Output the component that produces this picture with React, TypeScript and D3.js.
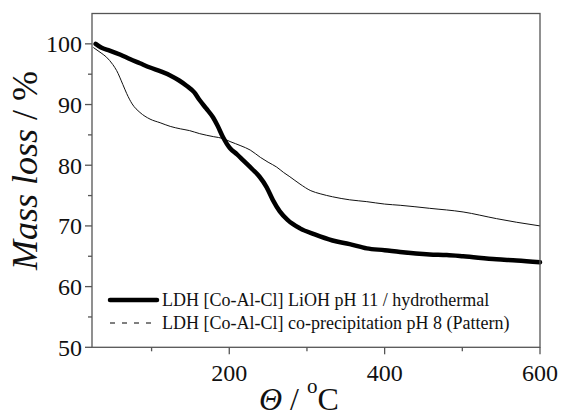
import React from "react";
import * as d3 from "d3";

const hydroT = [28, 35, 46, 60, 72, 85, 98, 111, 124, 135, 145, 155, 162, 170, 179, 185, 192, 197, 201, 210, 218, 230, 239, 248, 256, 265, 275, 291, 310, 333, 355, 377, 400, 420, 458, 480, 501, 544, 570, 600];
const hydroMass = [100, 99.4, 98.9, 98.2, 97.5, 96.8, 96.1, 95.5, 94.8, 94.0, 93.1, 92.0, 90.7, 89.4, 87.9, 86.5, 84.6, 83.5, 82.8, 81.8, 80.8, 79.3, 78.1, 76.4, 74.3, 72.4, 71.0, 69.6, 68.6, 67.6, 67.0, 66.3, 66.0, 65.7, 65.3, 65.2, 65.0, 64.5, 64.3, 64.0];

const coprecT = [25, 35, 42, 50, 55, 63, 68, 75, 85, 98, 111, 124, 137, 149, 162, 180, 192, 201, 215, 227, 240, 250, 261, 270, 278, 291, 305, 317, 333, 355, 377, 400, 420, 458, 501, 544, 570, 600];
const coprecMass = [99.4, 98.5, 97.8, 96.6, 95.6, 93.3, 91.8, 90.1, 88.7, 87.6, 87.0, 86.4, 86.0, 85.7, 85.2, 84.7, 84.4, 83.9, 83.2, 82.5, 81.3, 80.5, 79.7, 78.8, 78.1, 76.9, 75.8, 75.3, 74.8, 74.3, 74.0, 73.6, 73.4, 72.9, 72.3, 71.2, 70.6, 70.0];

const xMajor = [200, 400, 600];
const xMinor = [100, 300, 500];
const yMajor = [50, 60, 70, 80, 90, 100];
const yMinor = [55, 65, 75, 85, 95];

const legendLabels = [
  "LDH [Co-Al-Cl] LiOH pH 11 / hydrothermal",
  "LDH [Co-Al-Cl] co-precipitation pH 8 (Pattern)",
];

const FONT = "Liberation Serif, DejaVu Serif, serif";

export default function App() {
  const W = 562, H = 418;
  const x = d3.scaleLinear().domain([23.3, 600]).range([92, 540]);
  const y = d3.scaleLinear().domain([50, 105]).range([347.3, 13.5]);
  const line = d3
    .line<[number, number]>()
    .x((d) => x(d[0]))
    .y((d) => y(d[1]))
    .curve(d3.curveMonotoneX);
  const hydro = hydroT.map((t, i) => [t, hydroMass[i]] as [number, number]);
  const coprec = coprecT.map((t, i) => [t, coprecMass[i]] as [number, number]);
  const [x0, x1] = x.range();
  const [y0, y1] = y.range();
  const axisColor = "#555";
  const ts = { fontFamily: FONT };

  return (
    <svg width={W} height={H} style={{ position: "absolute", left: 0, top: 0, background: "#fff", fontFamily: FONT }}>
      <rect x={0} y={0} width={W} height={H} fill="#fff" />
      <path d={line(coprec) || ""} fill="none" stroke="#111" strokeWidth={1} />
      <path d={line(hydro) || ""} fill="none" stroke="#000" strokeWidth={4.5} strokeLinecap="round" strokeLinejoin="round" />
      <rect x={x0} y={y1} width={x1 - x0} height={y0 - y1} fill="none" stroke={axisColor} strokeWidth={1.3} />
      {xMajor.map((v) => (
        <g key={"xM" + v}>
          <line x1={x(v)} x2={x(v)} y1={y0} y2={y0 + 7} stroke={axisColor} strokeWidth={1.3} />
          <text style={ts} x={x(v)} y={381} textAnchor="middle" fontSize={24} fill="#111">{v}</text>
        </g>
      ))}
      {xMinor.map((v) => (
        <line key={"xm" + v} x1={x(v)} x2={x(v)} y1={y0} y2={y0 + 4} stroke={axisColor} strokeWidth={1.3} />
      ))}
      {yMajor.map((v) => (
        <g key={"yM" + v}>
          <line x1={x0 - 7} x2={x0} y1={y(v)} y2={y(v)} stroke={axisColor} strokeWidth={1.3} />
          <text style={ts} x={82} y={y(v)} dy="0.35em" textAnchor="end" fontSize={24} fill="#111">{v}</text>
        </g>
      ))}
      {yMinor.map((v) => (
        <line key={"ym" + v} x1={x0 - 4} x2={x0} y1={y(v)} y2={y(v)} stroke={axisColor} strokeWidth={1.3} />
      ))}
      <line x1={110} x2={157} y1={300} y2={300} stroke="#000" strokeWidth={4.5} strokeLinecap="round" />
      <line x1={110} x2={158} y1={323} y2={323} stroke="#000" strokeWidth={1} strokeDasharray="5,7" />
      <text style={ts} x={162} y={306} fontSize={18} fill="#111">{legendLabels[0]}</text>
      <text style={ts} x={162} y={329} fontSize={18} fill="#111">{legendLabels[1]}</text>
      <text style={ts} transform="translate(37,170.5) rotate(-90)" textAnchor="middle" fontSize={36} fill="#111">
        <tspan fontStyle="italic">Mass loss</tspan>
        <tspan> / %</tspan>
      </text>
      <text style={ts} x={259} y={410} fontSize={32} fill="#111">
        <tspan fontStyle="italic">Θ</tspan>
        <tspan> / </tspan>
        <tspan fontSize={21} dy={-17}>o</tspan>
        <tspan dy={17}>C</tspan>
      </text>
    </svg>
  );
}
